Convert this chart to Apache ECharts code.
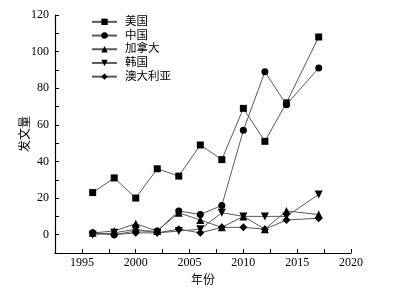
<!DOCTYPE html>
<html><head><meta charset="utf-8">
<script src="https://cdn.jsdelivr.net/npm/echarts@6/dist/echarts.min.js"></script>
<style>html,body{margin:0;padding:0;background:#fff}#c{width:408px;height:292px}</style>
</head><body><div id="c"></div>
<script>
var years = [1996, 1998, 2000, 2002, 2004, 2006, 2008, 2010, 2012, 2014, 2017];
var seriesNames = ['美国', '中国', '加拿大', '韩国', '澳大利亚'];
var usa = [23, 31, 20, 36, 32, 49, 41, 69, 51, 72, 108];
var china = [1, 0, 2, 2, 13, 11, 16, 57, 89, 71, 91];
var canada = [1, 2, 6, 2, 12, 8, 4, 10, 3, 13, 11];
var korea = [0, 1, 3, 1, 2, 3, 12, 10, 10, 10, 22];
var australia = [1, 0, 1, 1, 3, 1, 4, 4, 3, 8, 9];
var allValues = [usa, china, canada, korea, australia];
var symbols = ['rect', 'circle', 'triangle', 'triangle', 'diamond'];
var rotations = [0, 0, 0, 180, 0];
var sizes = [7, 7, 8, 8, 8];

var font = '"Liberation Serif", "Noto Sans CJK SC", serif';
var chart = echarts.init(document.getElementById('c'));
var series = seriesNames.map(function (n, i) {
  return {
    name: n, type: 'line',
    data: years.map(function (y, j) { return [y, allValues[i][j]]; }),
    symbol: symbols[i], symbolRotate: rotations[i], symbolSize: sizes[i],
    showAllSymbol: true,
    lineStyle: { color: '#5a5a5a', width: 1 },
    itemStyle: { color: '#000' },
    z: 2 + i
  };
});
chart.setOption({
  animation: false,
  backgroundColor: '#fff',
  textStyle: { fontFamily: font },
  grid: { left: 55, right: 57, top: 15, bottom: 39, containLabel: false, outerBoundsMode: 'none' },
  legend: {
    orient: 'vertical', left: 86, top: 10,
    itemWidth: 25, itemHeight: 8, itemGap: 0,
    textStyle: { fontFamily: font, fontSize: 11.5, color: '#000', lineHeight: 13.7, padding: [0, 0, 0, 3] },
    data: seriesNames
  },
  xAxis: {
    type: 'value', min: 1992.5, max: 2020, interval: 2.5,
    name: '年份', nameLocation: 'middle', nameGap: 22, nameMoveOverlap: false,
    nameTextStyle: { fontFamily: font, fontSize: 12, color: '#000' },
    axisLine: { onZero: false, lineStyle: { color: '#000', width: 1.2 } },
    axisTick: { inside: true, length: 4, lineStyle: { color: '#000' } },
    axisLabel: { color: '#000', fontSize: 12, margin: 4, fontFamily: font,
      formatter: function (v) { return (v % 5 === 0) ? String(v) : ''; } },
    splitLine: { show: false }
  },
  yAxis: {
    type: 'value', min: -10, max: 120, interval: 10,
    name: '发文量', nameLocation: 'middle', nameGap: 23, nameRotate: 90, nameMoveOverlap: false,
    nameTextStyle: { fontFamily: font, fontSize: 12, color: '#000' },
    axisLine: { show: true, onZero: false, lineStyle: { color: '#000', width: 1.2 } },
    axisTick: { show: true, inside: true, length: 4, lineStyle: { color: '#000' } },
    axisLabel: { color: '#000', fontSize: 12, margin: 6, fontFamily: font,
      formatter: function (v) { return (v % 20 === 0) ? String(v) : ''; } },
    splitLine: { show: false }
  },
  series: series
});
</script></body></html>
